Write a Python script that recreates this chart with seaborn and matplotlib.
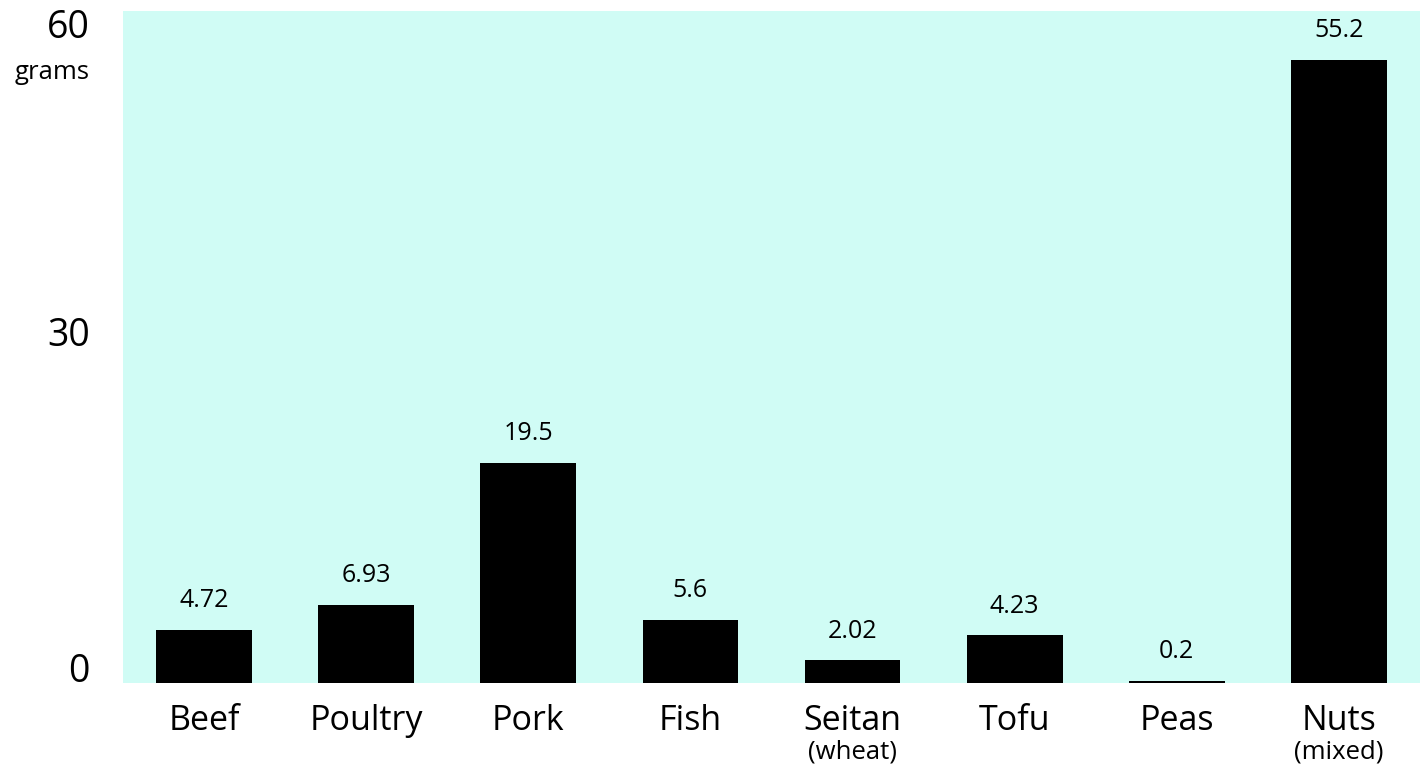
import matplotlib
matplotlib.use("Agg")
import matplotlib.pyplot as plt
import matplotlib.transforms as mtransforms
import seaborn as sns
import pandas as pd

categories = ["Beef", "Poultry", "Pork", "Fish", "Seitan", "Tofu", "Peas", "Nuts"]
subtitles = ["", "", "", "", "(wheat)", "", "", "(mixed)"]
values = [4.72, 6.93, 19.5, 5.6, 2.02, 4.23, 0.2, 55.2]
value_labels = ["4.72", "6.93", "19.5", "5.6", "2.02", "4.23", "0.2", "55.2"]
y_ticks = [0, 30, 60]
y_unit = "grams"

df = pd.DataFrame({"category": categories, "value": values})

sns.set_theme(style="white")
plt.rcParams["font.family"] = ["Open Sans", "DejaVu Sans"]

fig = plt.figure(figsize=(14.2, 7.7), dpi=100)
ax = fig.add_axes([123 / 1420, 87 / 770, 1297 / 1420, 672 / 770])
ax.set_facecolor("#d0fcf5")

sns.barplot(data=df, x="category", y="value", color="black", width=0.59,
            saturation=1, ax=ax)
for p in ax.patches:
    p.set_edgecolor("none")

ax.set_ylim(0, 59.5)
ax.set_xlim(-0.5, len(categories) - 0.5)
for s in ax.spines.values():
    s.set_visible(False)
ax.set_xlabel("")
ax.set_ylabel("")
ax.set_yticks([])
ax.tick_params(axis="x", length=0, pad=15, labelsize=24.5, labelcolor="black")

# value labels
for i, (v, lab) in enumerate(zip(values, value_labels)):
    ax.annotate(lab, xy=(i, v), xytext=(0, 12), textcoords="offset points",
                ha="center", va="bottom", fontsize=18, color="black")

# subtitles under categories
trans = mtransforms.blended_transform_factory(ax.transData, ax.transAxes)
for i, sub in enumerate(subtitles):
    if sub:
        ax.annotate(sub, xy=(i, 0), xycoords=trans, xytext=(0, -50),
                    textcoords="offset points", ha="center", va="center",
                    fontsize=18.5, color="black")

# y tick labels
ytrans = mtransforms.blended_transform_factory(ax.transAxes, ax.transData)
offsets = {0: 8, 30: 6, 60: -16}
for t in y_ticks:
    ax.annotate(str(t), xy=(0, t), xycoords=ytrans,
                xytext=(-24, offsets[t]), textcoords="offset points",
                ha="right", va="center", fontsize=27, color="black",
                annotation_clip=False)
ax.annotate(y_unit, xy=(0, 60), xycoords=ytrans, xytext=(-24, -48),
            textcoords="offset points", ha="right", va="center",
            fontsize=18.5, color="black", annotation_clip=False)

fig.savefig("out.png", dpi=100)
